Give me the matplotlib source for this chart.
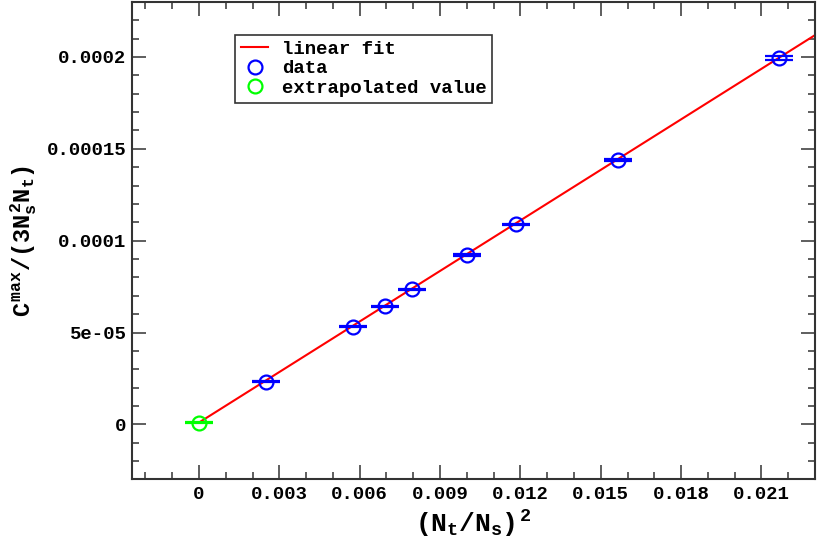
import matplotlib
matplotlib.use('Agg')
import matplotlib.pyplot as plt
import matplotlib.lines as mlines
from matplotlib.ticker import MultipleLocator, FuncFormatter
import numpy as np

# values
ratio_sq = [0.00251, 0.00575, 0.00694, 0.00797, 0.01001, 0.01183, 0.01564, 0.02166]
c_max = [2.33e-05, 5.31e-05, 6.42e-05, 7.36e-05, 9.22e-05, 1.090e-04, 1.439e-04, 1.995e-04]
c_err = [3e-07, 3e-07, 3e-07, 3e-07, 3e-07, 3e-07, 5e-07, 1.2e-06]

extrap_x = [0.0]
extrap_y = [1.0e-06]
extrap_err = [3e-07]

fit_slope = 9.17e-03
fit_intercept = 1.0e-06
fit_range = [0.0, 0.0235]

font = 'Liberation Mono'
plt.rcParams['font.family'] = [font, 'DejaVu Sans Mono']
plt.rcParams['font.weight'] = 'bold'
plt.rcParams['mathtext.fontset'] = 'custom'
plt.rcParams['mathtext.rm'] = font + ':bold'
plt.rcParams['mathtext.it'] = font + ':bold'
plt.rcParams['mathtext.bf'] = font + ':bold'

fig = plt.figure(figsize=(8.17, 5.49), dpi=100)
ax = fig.add_axes([0.1616, 0.1266, 0.836, 0.870])

xf = np.array(fit_range)
ax.plot(xf, fit_intercept + fit_slope * xf, color='red', lw=1.5, zorder=2)

ax.errorbar(ratio_sq, c_max, yerr=c_err, fmt='o', mfc='none', mec='blue',
            ecolor='blue', ms=10, mew=1.6, elinewidth=1.5,
            capsize=10, capthick=1.8, zorder=3)
ax.errorbar(extrap_x, extrap_y, yerr=extrap_err, fmt='o', mfc='none', mec='lime',
            ecolor='lime', ms=10, mew=1.6, elinewidth=1.5,
            capsize=10, capthick=1.8, zorder=3)

ax.set_xlim(-0.0025, 0.023)
ax.set_ylim(-3e-05, 2.3e-04)

ax.xaxis.set_major_locator(MultipleLocator(0.003))
ax.xaxis.set_minor_locator(MultipleLocator(0.001))
ax.yaxis.set_major_locator(MultipleLocator(5e-05))
ax.yaxis.set_minor_locator(MultipleLocator(1e-05))
fmt = FuncFormatter(lambda v, p: '%g' % round(v, 10))
ax.xaxis.set_major_formatter(fmt)
ax.yaxis.set_major_formatter(fmt)

ax.tick_params(which='both', direction='in', top=True, right=True,
               color='#333333', width=1.1, labelsize=13.7)
ax.tick_params(which='major', length=10)
ax.tick_params(which='minor', length=5)
ax.tick_params(axis='x', pad=5)
ax.tick_params(axis='y', pad=4)
for s in ax.spines.values():
    s.set_linewidth(1.5)
    s.set_color('#333333')

ax.set_xlabel(r'$(N_t/N_s)^{\,2}$', fontsize=19, labelpad=3)
ax.set_ylabel(r'$C^{max}/(3N_s^2N_t)$', fontsize=17, labelpad=6)

legend_handles = [
    mlines.Line2D([], [], color='red', lw=1.5, label='linear fit'),
    mlines.Line2D([], [], color='blue', marker='o', mfc='none', ms=10, mew=1.6,
                  ls='none', label='data'),
    mlines.Line2D([], [], color='lime', marker='o', mfc='none', ms=10, mew=1.6,
                  ls='none', label='extrapolated value'),
]
leg = ax.legend(handles=legend_handles, loc='upper left',
                bbox_to_anchor=(0.1508, 0.931), borderaxespad=0,
                fontsize=13.7, fancybox=False, framealpha=1, edgecolor='#333333',
                handlelength=1.45, handletextpad=0.7, labelspacing=0.12,
                borderpad=0.3)
leg.get_frame().set_linewidth(1.2)

fig.savefig('out.png', dpi=100)
